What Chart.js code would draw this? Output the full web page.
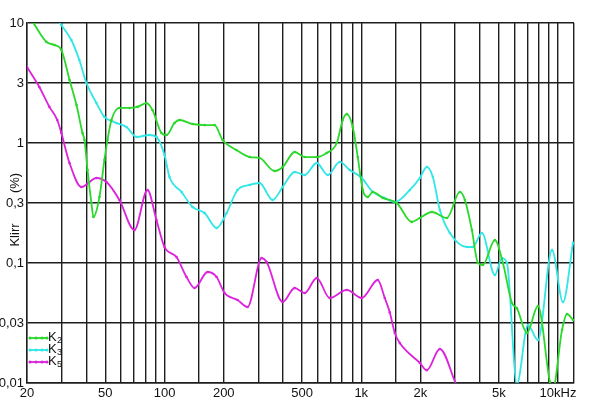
<!DOCTYPE html>
<html>
<head>
<meta charset="utf-8">
<script src="https://cdn.jsdelivr.net/npm/chart.js@4/dist/chart.umd.min.js"></script>
<style>
  html, body { margin: 0; padding: 0; background: #fff; }
  #wrap { width: 600px; height: 417px; }
</style>
</head>
<body>
<div id="wrap"><canvas id="grafica" width="600" height="417"></canvas></div>
<script>
// K2 - verde
var k2Freq = [20, 21.6, 25.1, 27.6, 29.9, 32.9, 35.7, 38.3, 39.2, 40.6, 42.5, 43.5, 46.7, 49.5, 51.3, 53.7, 59.0, 66.4, 72.9, 80.9, 86.9, 96.5, 102.4, 112.4, 119.2, 138.8, 159.8, 179.7, 197.3, 232, 270.8, 304, 363, 399, 459, 516, 594, 667, 751, 805, 844, 905, 960, 1018, 1079, 1144, 1287, 1516, 1807, 1985, 2285, 2723, 3172, 3364, 3651, 3917, 4150, 4777, 5249, 5834, 6181, 6950, 7912, 9100, 9430, 10480, 11110, 11922];
var k2Vals = [12.5, 10.0, 6.95, 6.56, 5.96, 3.35, 2.07, 1.21, 1.06, 0.596, 0.316, 0.242, 0.355, 0.722, 1.06, 1.55, 1.96, 1.96, 2.0, 2.15, 1.88, 1.21, 1.166, 1.468, 1.555, 1.44, 1.41, 1.41, 1.06, 0.874, 0.764, 0.75, 0.584, 0.631, 0.841, 0.764, 0.764, 0.825, 1.0, 1.555, 1.74, 1.36, 0.764, 0.406, 0.355, 0.391, 0.348, 0.316, 0.220, 0.237, 0.266, 0.237, 0.391, 0.335, 0.188, 0.1, 0.0962, 0.155, 0.1, 0.0464, 0.042, 0.0261, 0.0438, 0.0102, 0.009, 0.0276, 0.0376, 0.0335];

// K3 - cian
var k3Freq = [28, 29.2, 29.9, 33.6, 36.9, 40.1, 45.1, 49.5, 57.0, 64.1, 72.1, 83.9, 91.0, 100, 106, 122, 138.8, 159.8, 184, 206.8, 235, 270.8, 304, 354.5, 398.6, 458.8, 516, 593.7, 676, 777.5, 874, 1006, 1144, 1317, 1481, 1766, 1985, 2153, 2312, 2509, 2820, 3444, 3694, 4102, 4777, 5188, 5503, 6181, 7031, 7912, 9324, 10602, 11922];
var k3Vals = [11.5, 10.2, 9.62, 7.22, 4.92, 3.16, 2.15, 1.65, 1.468, 1.36, 1.122, 1.166, 1.122, 0.794, 0.521, 0.391, 0.293, 0.261, 0.196, 0.261, 0.406, 0.447, 0.464, 0.335, 0.430, 0.573, 0.541, 0.681, 0.541, 0.695, 0.596, 0.511, 0.391, 0.348, 0.322, 0.406, 0.511, 0.631, 0.521, 0.276, 0.178, 0.136, 0.136, 0.178, 0.0794, 0.110, 0.1, 0.0098, 0.0304, 0.0228, 0.128, 0.0473, 0.147];

// K5 - magenta
var k5Freq = [20, 23.1, 26.0, 28.5, 29.9, 32.9, 37.8, 45.1, 50.7, 59.0, 70.3, 81.9, 91.0, 100, 115.1, 129.4, 142.1, 165.5, 184, 201.9, 235, 264.4, 311.6, 330.4, 398.6, 458.8, 516, 593.7, 691.4, 844, 1006, 1213, 1317, 1396, 1481, 1570, 1985, 2153, 2509, 3030];
var k5Vals = [4.30, 2.93, 2.0, 1.555, 1.21, 0.681, 0.430, 0.511, 0.473, 0.335, 0.188, 0.406, 0.228, 0.136, 0.112, 0.0764, 0.0619, 0.0841, 0.0764, 0.0562, 0.0492, 0.0430, 0.110, 0.102, 0.0473, 0.0619, 0.0562, 0.075, 0.0511, 0.0596, 0.0511, 0.0722, 0.0511, 0.0389, 0.0261, 0.0215, 0.0147, 0.0128, 0.0192, 0.0098];

// ejes
var xGrid = [20, 30, 40, 50, 60, 70, 80, 90, 100, 150, 200, 300, 400, 500, 600, 700, 800, 900, 1000, 1500, 2000, 3000, 4000, 5000, 6000, 7000, 8000, 9000, 10000, 12060];
var xLabels = {20: '20', 50: '50', 100: '100', 200: '200', 500: '500', 1000: '1k', 2000: '2k', 5000: '5k', 10000: '10kHz'};
var yGrid = [0.01, 0.0316, 0.1, 0.316, 1, 3.162, 10];
var yLabels = ['0,01', '0,03', '0,1', '0,3', '1', '3', '10'];

var verde = '#2ad82a';
var cian = '#30e6e6';
var magenta = '#dc22dc';

function puntos(fr, vs) {
    var out = [];
    for (var i = 0; i < fr.length; i++) out.push({x: fr[i], y: vs[i]});
    return out;
}

function serie(label, fr, vs, color) {
    return {
        label: label,
        data: puntos(fr, vs),
        borderColor: color,
        backgroundColor: color,
        borderWidth: 1.8,
        pointRadius: 1.3,
        pointBorderWidth: 0,
        cubicInterpolationMode: 'monotone',
        fill: false
    };
}

// titulo del eje y y leyenda dentro del grafico
var extras = {
    id: 'extras',
    afterDraw: function (chart) {
        var ctx = chart.ctx;
        ctx.save();
        ctx.fillStyle = '#111';
        ctx.font = '13px "Liberation Sans", Arial, sans-serif';
        ctx.textAlign = 'center';
        ctx.textBaseline = 'middle';
        ctx.translate(15, 0);
        ctx.rotate(-Math.PI / 2);
        ctx.fillText('(%)', -183, 0);
        ctx.fillText('Klirr', -235, 0);
        ctx.restore();

        var items = [['2', verde, 338], ['3', cian, 350], ['5', magenta, 362]];
        ctx.save();
        items.forEach(function (it) {
            var y = it[2];
            ctx.strokeStyle = it[1];
            ctx.fillStyle = it[1];
            ctx.lineWidth = 1.8;
            ctx.beginPath();
            ctx.moveTo(29, y);
            ctx.lineTo(47, y);
            ctx.stroke();
            [30, 36, 42, 47].forEach(function (px) {
                ctx.beginPath();
                ctx.arc(px, y, 1.6, 0, Math.PI * 2);
                ctx.fill();
            });
            ctx.fillStyle = '#111';
            ctx.textBaseline = 'middle';
            ctx.textAlign = 'left';
            ctx.font = '13px "Liberation Sans", Arial, sans-serif';
            ctx.fillText('K', 48, y - 1);
            ctx.font = '9px "Liberation Sans", Arial, sans-serif';
            ctx.fillText(it[0], 57, y + 3);
        });
        ctx.restore();
    }
};

var ctx = document.getElementById('grafica').getContext('2d');
var grafica = new Chart(ctx, {
    type: 'line',
    data: {
        datasets: [
            serie('K2', k2Freq, k2Vals, verde),
            serie('K3', k3Freq, k3Vals, cian),
            serie('K5', k5Freq, k5Vals, magenta)
        ]
    },
    options: {
        responsive: false,
        animation: false,
        layout: { padding: { top: 23, right: 26, left: 0, bottom: 0 } },
        plugins: { legend: { display: false }, tooltip: { enabled: false } },
        scales: {
            x: {
                type: 'logarithmic',
                min: 20,
                max: 12060,
                afterBuildTicks: function (scale) {
                    scale.ticks = xGrid.map(function (v) { return {value: v}; });
                },
                afterFit: function (scale) { scale.height = 34; },
                ticks: {
                    autoSkip: false,
                    maxRotation: 0,
                    padding: 3,
                    color: '#111',
                    font: { family: '"Liberation Sans", Arial, sans-serif', size: 13 },
                    callback: function (v) { return xLabels[v] || ''; }
                },
                grid: { color: '#1e1e1e', lineWidth: 1.4, drawTicks: false },
                border: { color: '#1e1e1e', width: 1.4 }
            },
            y: {
                type: 'logarithmic',
                min: 0.01,
                max: 10,
                afterBuildTicks: function (scale) {
                    scale.ticks = yGrid.map(function (v) { return {value: v}; });
                },
                afterFit: function (scale) { scale.width = 27; },
                ticks: {
                    autoSkip: false,
                    padding: 3,
                    color: '#111',
                    font: { family: '"Liberation Sans", Arial, sans-serif', size: 13 },
                    callback: function (v, i) { return yLabels[i]; }
                },
                grid: { color: '#1e1e1e', lineWidth: 1.4, drawTicks: false },
                border: { color: '#1e1e1e', width: 1.4 }
            }
        }
    },
    plugins: [extras]
});
</script>
</body>
</html>
